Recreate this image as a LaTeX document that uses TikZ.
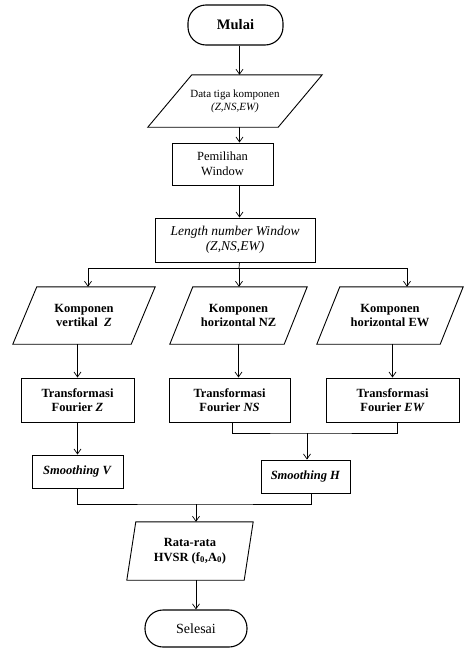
\documentclass[tikz,border=0pt]{standalone}
\usepackage{fontspec}
\setmainfont{Liberation Serif}
\usetikzlibrary{arrows.meta,calc}
\tikzset{
  boxline/.style={line width=0.9pt},
  procbox/.style={draw, boxline, inner sep=0pt, align=center, minimum width=#1},
  paraframe/.style={inner sep=0pt, align=center, minimum width=#1},
  termbox/.style={draw, line width=1.1pt, inner sep=0pt, align=center, minimum width=#1, minimum height=38pt, rounded corners=18pt},
  conn/.style={line width=0.7pt},
  arr/.style={conn, -{Straight Barb[length=5pt,width=7pt]}},
  txt/.style={font=\fontsize{12.5}{14.5}\selectfont},
  btxt/.style={font=\fontsize{12.5}{14.5}\selectfont\bfseries},
}
\newcommand{\paradraw}[2]{%
  \draw[boxline] ([xshift=#2pt]#1.north west) -- (#1.north east) -- ([xshift=-#2pt]#1.south east) -- (#1.south west) -- cycle;}
\begin{document}
\begin{tikzpicture}[x=1pt,y=-1pt]
\useasboundingbox (0,0) rectangle (465,648);
% terminals
\node[termbox=95pt, minimum height=40pt, font=\fontsize{14.5}{16}\selectfont\bfseries] (mulai) at (235.5,25) {Mulai};
\node[termbox=102pt, minimum height=37pt, font=\fontsize{14}{16}\selectfont] (selesai) at (196,628.5) {Selesai};
% parallelograms
\node[paraframe=174pt, minimum height=52pt, font=\fontsize{11}{13}\selectfont] (data) at (235,101) {Data tiga komponen\\\textit{(Z,NS,EW)}};
\paradraw{data}{44}
\node[paraframe=142pt, minimum height=57pt, btxt] (kz) at (84,315.5) {Komponen\\vertikal\ \ \textit{Z}};
\paradraw{kz}{24}
\node[paraframe=137pt, minimum height=57pt, btxt] (km) at (238.5,315.5) {Komponen\\horizontal NZ};
\paradraw{km}{23}
\node[paraframe=146pt, minimum height=57pt, btxt] (kew) at (390,315.5) {Komponen\\horizontal EW};
\paradraw{kew}{23}
\node[paraframe=126pt, minimum height=58pt, btxt] (rata) at (190,551) {Rata-rata\\HVSR (f\textsubscript{0},A\textsubscript{0})};
\paradraw{rata}{9}
% boxes
\node[procbox=101pt, minimum height=42pt, txt] (pem) at (222.5,164) {Pemilihan\\Window};
\node[procbox=160pt, minimum height=44pt, font=\fontsize{13.5}{15}\selectfont\itshape] (len) at (235,240) {Length number Window\\(Z,NS,EW)};
\node[procbox=113pt, minimum height=44pt, btxt] (tz) at (77.5,400) {Transformasi\\Fourier \textit{Z}};
\node[procbox=121pt, minimum height=44pt, btxt] (tns) at (229.5,400) {Transformasi\\Fourier \textit{NS}};
\node[procbox=133pt, minimum height=44pt, btxt] (tew) at (392.5,400) {Transformasi\\Fourier \textit{EW}};
\node[procbox=91pt, minimum height=33pt, btxt] (sv) at (77.5,471.5) {\textit{Smoothing V}};
\node[procbox=89pt, minimum height=33pt, btxt] (sh) at (305.5,476.5) {\textit{Smoothing H}};
% coordinates
\coordinate (ax) at (239.5,0);
\coordinate (b1) at (88,268);
\coordinate (b2) at (239,268);
\coordinate (b3) at (407,268);
\coordinate (mh) at (307,433);
\coordinate (mb) at (196,504);
% connectors
\draw[arr] (mulai.south -| ax) -- (data.north -| ax);
\draw[arr] (data.south -| ax) -- (pem.north -| ax);
\draw[arr] (pem.south -| ax) -- (len.north -| ax);
\draw[conn] (len.south -| ax) -- (b2);
\draw[conn] (b1) -- (b3);
\draw[arr] (b1) -- (kz.north -| b1);
\draw[arr] (b2) -- (km.north -| b2);
\draw[arr] (b3) -- (kew.north -| b3);
\draw[arr] (kz.south -| tz) -- (tz.north);
\draw[arr] (km.south) -- (km.south |- tns.north);
\draw[arr] (tew.north |- kew.south) -- (tew.north);
\draw[arr] (tz.south) -- (sv.north);
\draw[conn] ([xshift=2.5pt]tns.south) |- (mh) -| ([xshift=4.5pt]tew.south);
\draw[arr] (mh) -- (sh.north -| mh);
\draw[conn] (sv.south) |- (mb) -| ([xshift=5.5pt]sh.south);
\draw[arr] (mb) -- (rata.north -| mb);
\draw[arr] (rata.south -| mb) -- (selesai.north);
\end{tikzpicture}
\end{document}
